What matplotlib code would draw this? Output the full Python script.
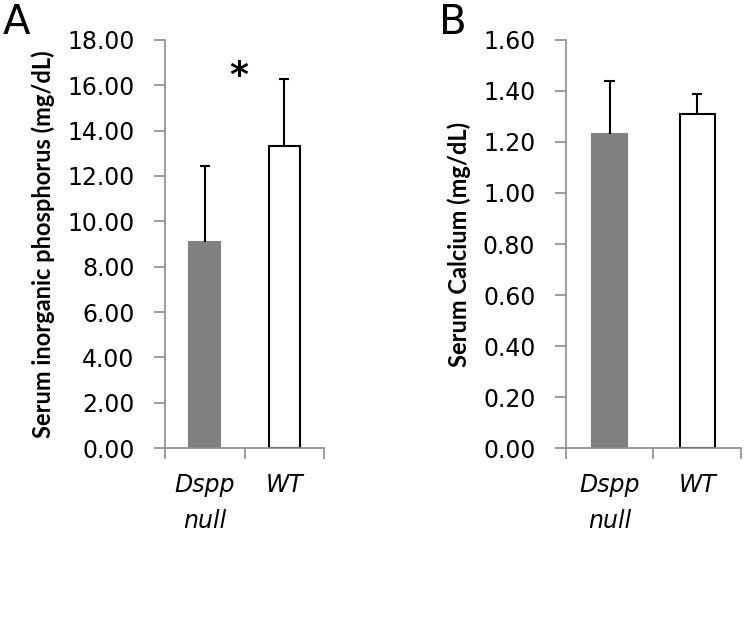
import matplotlib
matplotlib.use('Agg')
import matplotlib.pyplot as plt

# data
groups = ['Dspp\nnull', 'WT']
phos_mean = [9.10, 13.32]
phos_sd = [3.35, 2.95]
ca_mean = [1.23, 1.31]
ca_sd = [0.21, 0.08]
phos_ticks = [0, 2, 4, 6, 8, 10, 12, 14, 16, 18]
ca_ticks = [0, 0.2, 0.4, 0.6, 0.8, 1.0, 1.2, 1.4, 1.6]

plt.rcParams['font.family'] = ['DejaVu Sans']
axis_grey = '#8c8c8c'
bar_colors = ['#808080', 'white']
edge_colors = ['#808080', 'black']

fig = plt.figure(figsize=(7.46, 6.2), dpi=100)
axA = fig.add_axes([0.2212, 0.2774, 0.2131, 0.6581])
axB = fig.add_axes([0.7587, 0.2774, 0.2346, 0.6581])


def draw_panel(ax, means, sds, ticks, ylabel, width, cap):
    x = list(range(len(means)))
    ax.bar(x, means, width=width, color=bar_colors, edgecolor=edge_colors,
           linewidth=1.5, zorder=2)
    # upper error bars only, cap on top
    tops = [m + s for m, s in zip(means, sds)]
    ax.vlines(x, means, tops, color='black', linewidth=1.5, zorder=3)
    ax.hlines(tops, [i - cap for i in x], [i + cap for i in x], color='black',
              linewidth=1.5, zorder=3)
    ax.set_xlim(-0.5, 1.5)
    ax.set_ylim(ticks[0], ticks[-1])
    ax.set_yticks(ticks)
    ax.set_yticklabels(['%.2f' % t for t in ticks], fontsize=17)
    ax.set_xticks([-0.5, 0.5, 1.5])
    ax.set_xticklabels([])
    ax.set_xticks(x, minor=True)
    ax.set_xticklabels(groups, minor=True, fontsize=17, style='italic',
                       linespacing=1.65)
    ax.tick_params(axis='x', which='minor', length=0, pad=18)
    ax.tick_params(axis='x', which='major', length=8, width=1.2, color=axis_grey)
    ax.tick_params(axis='y', length=8, width=1.2, color=axis_grey, pad=14)
    for s in ['top', 'right']:
        ax.spines[s].set_visible(False)
    for s in ['left', 'bottom']:
        ax.spines[s].set_color(axis_grey)
        ax.spines[s].set_linewidth(1.2)
    ax.set_ylabel(ylabel, fontsize=17, fontweight='bold', family='Lato')


draw_panel(axA, phos_mean, phos_sd, phos_ticks,
           'Serum inorganic phosphorus (mg/dL)', 0.39, 0.065)
draw_panel(axB, ca_mean, ca_sd, ca_ticks, 'Serum Calcium (mg/dL)', 0.40, 0.06)

axA.yaxis.set_label_coords(-0.69, 0.5)
axB.yaxis.set_label_coords(-0.54, 0.5)

axA.text(0.43, 16.4, '*', fontsize=26, fontweight='bold', ha='center',
         va='center')

fig.text(0.004, 0.995, 'A', fontsize=29, va='top', ha='left')
fig.text(0.588, 0.995, 'B', fontsize=29, va='top', ha='left')

fig.savefig('out.png', dpi=100)
